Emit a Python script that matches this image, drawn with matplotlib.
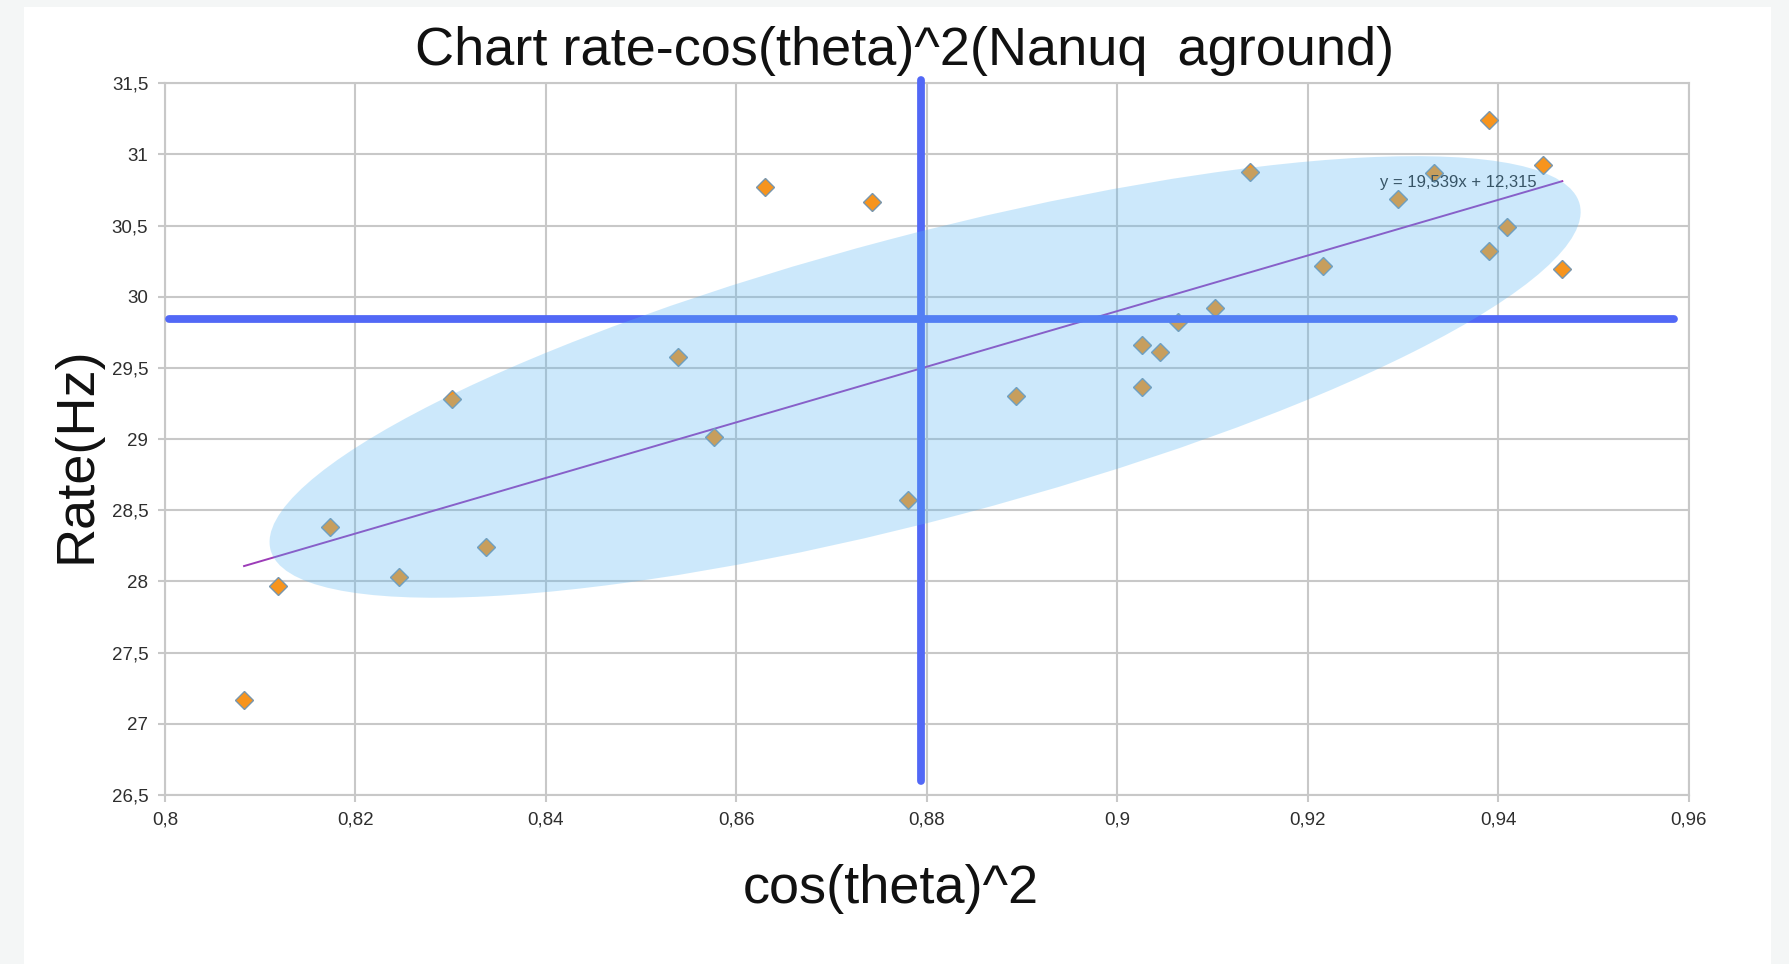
import matplotlib
matplotlib.use("Agg")
import matplotlib.pyplot as plt
import matplotlib.transforms as transforms
import numpy as np
from matplotlib.patches import Ellipse, Rectangle
from matplotlib.ticker import FuncFormatter, MultipleLocator

# data
cos2 = [0.8083, 0.8119, 0.8173, 0.8246, 0.8301, 0.8337, 0.8539, 0.8576, 0.8630,
        0.8742, 0.8780, 0.8893, 0.9026, 0.9026, 0.9045, 0.9063, 0.9102, 0.9139,
        0.9216, 0.9294, 0.9332, 0.9390, 0.9390, 0.9409, 0.9447, 0.9467]
rate = [27.167, 27.970, 28.386, 28.031, 29.283, 28.241, 29.576, 29.018, 30.774,
        30.669, 28.574, 29.304, 29.662, 29.369, 29.615, 29.826, 29.920, 30.879,
        30.219, 30.687, 30.872, 31.242, 30.324, 30.493, 30.926, 30.194]

# linear trend shown on the chart
slope = 19.539
intercept = 12.315

# hand-drawn guide lines (data units)
h_line_y = 29.843
h_line_x = (0.8004, 0.9584)
v_line_x = 0.8794
v_line_y = (26.60, 31.52)

# highlighted region
ell_center = (0.8798, 29.437)

FONT = ["Liberation Sans", "DejaVu Sans"]
GRID = "#c8c8c8"


def comma_fmt(v, pos):
    return ("%g" % round(v, 4)).replace(".", ",")


fig = plt.figure(figsize=(17.9, 9.64), dpi=100, facecolor="#f4f6f6")
fig.patches.append(Rectangle((24 / 1790, 0), (1771 - 24) / 1790, 1 - 7 / 964,
                             transform=fig.transFigure, facecolor="white",
                             edgecolor="none", zorder=-10))

ax = fig.add_axes([165 / 1790, 1 - 795 / 964, (1689 - 165) / 1790, (795 - 83.3) / 964])
ax.set_zorder(1)
ax.set_xlim(0.8, 0.96)
ax.set_ylim(26.5, 31.5)
ax.xaxis.set_major_locator(MultipleLocator(0.02))
ax.yaxis.set_major_locator(MultipleLocator(0.5))
ax.xaxis.set_major_formatter(FuncFormatter(comma_fmt))
ax.yaxis.set_major_formatter(FuncFormatter(comma_fmt))
ax.grid(True, color=GRID, lw=1.5)
ax.set_axisbelow(True)
for s in ax.spines.values():
    s.set_color(GRID)
    s.set_linewidth(1.5)
ax.tick_params(length=5, width=1.5, color=GRID, pad=7, labelsize=13.5,
               labelcolor="#2e2e2e")
for lab in ax.get_xticklabels() + ax.get_yticklabels():
    lab.set_family(FONT)

# trend line
xt = np.array([min(cos2), max(cos2)])
ax.plot(xt, slope * xt + intercept, color="#9c3cb8", lw=1.4, zorder=2)

ax.plot(cos2, rate, linestyle="none", marker="D", ms=9.5, mfc="#f7941d",
        mec="#7896ad", mew=1, zorder=3)

ax.text(0.9276, 30.770, "y = 19,539x + 12,315", fontsize=12, color="#2a2a2a",
        family=FONT, ha="left", va="baseline", zorder=3.5)

# blue guide lines
ax.plot(h_line_x, [h_line_y, h_line_y], color="#5268f6", lw=5.6,
        solid_capstyle="round", zorder=4, clip_on=False)
ax.plot([v_line_x, v_line_x], v_line_y, color="#5268f6", lw=5.6,
        solid_capstyle="round", zorder=4, clip_on=False)

# ellipse drawn in inches around a data-space centre
trans = fig.dpi_scale_trans + transforms.ScaledTranslation(ell_center[0], ell_center[1], ax.transData)
ax.add_patch(Ellipse((0, 0), 13.54, 2.84, angle=14.8, transform=trans,
                     facecolor="#58b6f2", edgecolor="none", alpha=0.3, zorder=5,
                     clip_on=False))

fig.text(905 / 1790, 1 - 65 / 964, "Chart rate-cos(theta)^2(Nanuq  aground)",
         fontsize=39, family=FONT, ha="center", va="baseline", color="#111111")
fig.text(890.5 / 1790, 1 - 903 / 964, "cos(theta)^2", fontsize=39, family=FONT,
         ha="center", va="baseline", color="#111111")
fig.text(90 / 1790, 1 - 455 / 964, "Rate(Hz)", fontsize=39, family=FONT,
         rotation=90, rotation_mode="anchor", ha="center", va="baseline",
         color="#111111")

fig.savefig("out.png", dpi=100, facecolor=fig.get_facecolor())
